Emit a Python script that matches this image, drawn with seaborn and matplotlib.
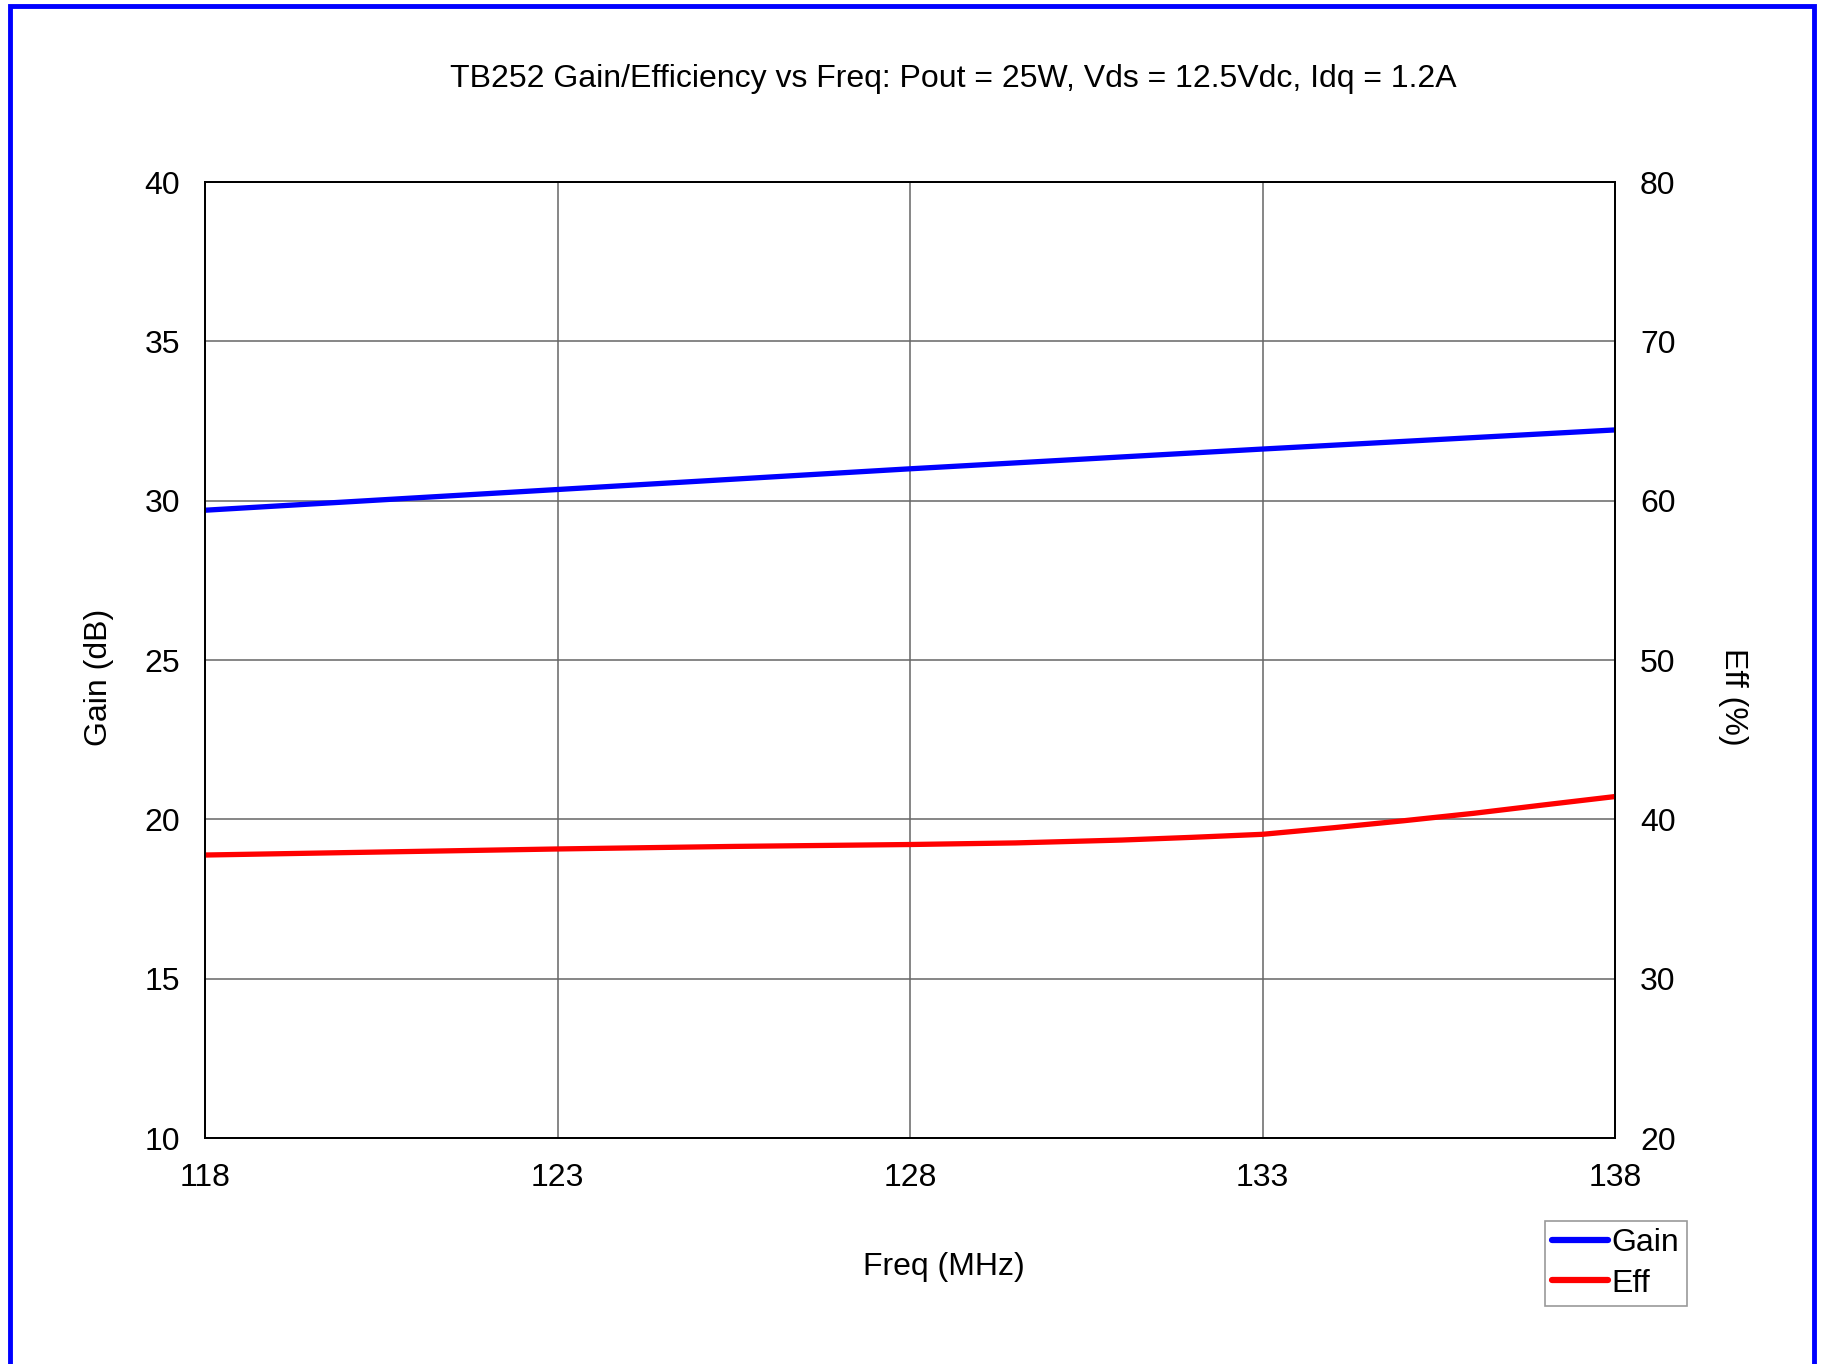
import pandas as pd
import matplotlib.pyplot as plt
import seaborn as sns
from matplotlib.patches import Rectangle

# data ------------------------------------------------------
gain_freq=[118,123,128,133,138]
gain=[29.7,30.35,31.0,31.62,32.22]
eff_freq=[118,120.5,123,125.5,128,129.5,131,132,133,134,135,136,137,138]
eff=[37.76,37.95,38.14,38.3,38.42,38.52,38.7,38.87,39.06,39.47,39.91,40.38,40.91,41.43]

xticks=[118,123,128,133,138]
gain_ticks=[10,15,20,25,30,35,40]
eff_ticks=[20,30,40,50,60,70,80]

title="TB252 Gain/Efficiency vs Freq: Pout = 25W, Vds = 12.5Vdc, Idq = 1.2A"

gainDF=pd.DataFrame({"freq":gain_freq,"gain":gain})
effDF=pd.DataFrame({"freq":eff_freq,"eff":eff})

sns.set_style("white")
plt.rcParams['font.family']=['Liberation Sans','DejaVu Sans']
plt.rcParams['text.color']='black'
plt.rcParams['xtick.color']='black'
plt.rcParams['ytick.color']='black'

W,H=1821,1364
fig=plt.figure(figsize=(W/100,H/100),dpi=100)
ax=fig.add_axes([205/W,1-1138/H,1410/W,956/H])
ax2=ax.twinx()

fs=23

##### lines #####
sns.lineplot(data=gainDF,x="freq",y="gain",ax=ax,color="#0000ff",linewidth=3.8,label="Gain",legend=False)
sns.lineplot(data=effDF,x="freq",y="eff",ax=ax2,color="#ff0000",linewidth=3.8,label="Eff",legend=False)

##### axes styling #####
ax.set_xlim(118,138)
ax.set_ylim(10,40)
ax2.set_ylim(20,80)
ax.set_xticks(xticks)
ax.set_yticks(gain_ticks)
ax2.set_yticks(eff_ticks)
ax.grid(True,color="#666666",linewidth=1.1)
ax.set_axisbelow(True)
ax.tick_params(axis='both',length=0,pad=18,labelsize=fs)
ax2.tick_params(axis='y',length=0,pad=18,labelsize=fs)
ax.set_xlabel("")
ax.set_ylabel("")
ax2.set_ylabel("")
for a in (ax,ax2):
    for s in a.spines.values():
        s.set_color("black")
        s.set_linewidth(1.3)

##### text #####
fig.text(953/W,1-79/H,title,ha='center',va='center',fontsize=fs)
fig.text(944/W,1-1267/H,"Freq (MHz)",ha='center',va='center',fontsize=fs)
fig.text(99/W,1-677/H,"Gain (dB)",ha='center',va='center',rotation=90,fontsize=fs)
fig.text(1733/W,1-697/H,"Eff (%)",ha='center',va='center',rotation=-90,fontsize=fs)

##### legend #####
h1,l1=ax.get_legend_handles_labels()
h2,l2=ax2.get_legend_handles_labels()
leg=fig.legend(h1+h2,l1+l2,
               loc='upper left',
               bbox_to_anchor=(1545/W,1-1221/H),
               fontsize=fs,
               frameon=True,
               fancybox=False,
               edgecolor="#808080",
               borderpad=0.22,
               handlelength=1.75,
               handletextpad=0.12,
               labelspacing=0.33,
               borderaxespad=0)
leg.get_frame().set_linewidth(1.2)
for ln in leg.get_lines():
    ln.set_linewidth(4.5)

##### blue page border #####
fig.patches.append(Rectangle((10/W,-0.02),1804/W,1.02-6/H,
                             transform=fig.transFigure,fill=False,
                             edgecolor="#0000ff",linewidth=3.5))

plt.savefig("out.png",dpi=100)
